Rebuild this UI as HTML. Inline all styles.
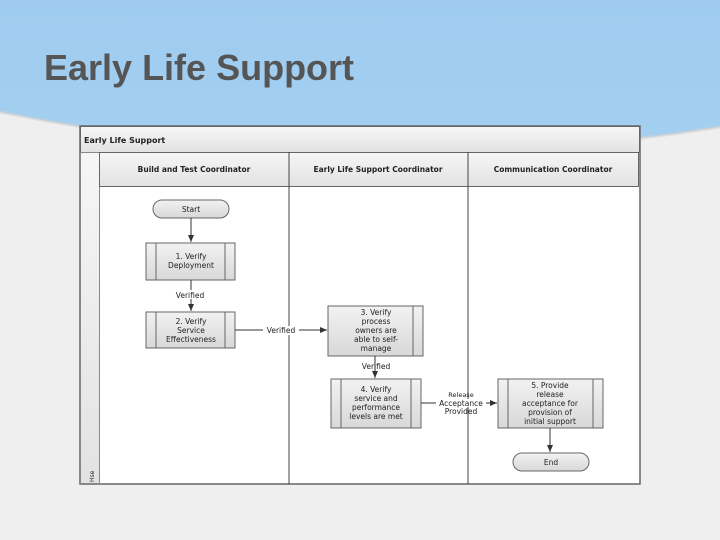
<!DOCTYPE html>
<html><head><meta charset="utf-8"><style>
body{margin:0;width:720px;height:540px;overflow:hidden;font-family:"Liberation Sans",sans-serif}
</style></head><body>
<svg width="720" height="540" xmlns="http://www.w3.org/2000/svg" style="display:block">
<defs>
<linearGradient id="bg" x1="0" y1="0" x2="0" y2="1"><stop offset="0" stop-color="#9ecbef"/><stop offset="1" stop-color="#b3dbf6"/></linearGradient>
<linearGradient id="hd" x1="0" y1="0" x2="0" y2="1"><stop offset="0" stop-color="#f6f6f6"/><stop offset="1" stop-color="#e2e2e2"/></linearGradient>
<linearGradient id="bx" x1="0" y1="0" x2="0" y2="1"><stop offset="0" stop-color="#f2f2f2"/><stop offset="1" stop-color="#d8d8d8"/></linearGradient>
<marker id="ar" markerWidth="8" markerHeight="8" refX="7" refY="4" orient="auto" markerUnits="userSpaceOnUse"><path d="M0,1 L7,4 L0,7 Z" fill="#333"/></marker>
</defs>
<rect width="720" height="540" fill="url(#bg)"/>
<path d="M0,112 Q360,185 720,127 L720,540 L0,540 Z" fill="#efefef"/>
<path d="M0,112 Q360,185 720,127" fill="none" stroke="#d0d0d0" stroke-width="3" opacity="0.6"/>
<text x="44" y="80" font-size="36" font-weight="bold" fill="#555">Early Life Support</text>
<g font-family="'DejaVu Sans',sans-serif" fill="#222">
<rect x="80" y="126" width="560" height="358" fill="#fff" stroke="#666" stroke-width="1.5"/>
<rect x="80.5" y="126.5" width="559" height="26" fill="url(#hd)" stroke="#666"/>
<text x="84" y="143" font-size="8" font-weight="bold">Early Life Support</text>
<rect x="80.5" y="152.5" width="19" height="331" fill="url(#hd)" stroke="#888"/>
<text transform="translate(94,482) rotate(-90)" font-size="6">Hse</text>
<rect x="99.5" y="152.5" width="539" height="34" fill="url(#hd)" stroke="#666"/>
<line x1="289" y1="152" x2="289" y2="484" stroke="#444"/>
<line x1="468" y1="152" x2="468" y2="484" stroke="#444"/>
<text x="194" y="172" font-size="7.5" font-weight="bold" text-anchor="middle">Build and Test Coordinator</text>
<text x="378" y="172" font-size="7.5" font-weight="bold" text-anchor="middle">Early Life Support Coordinator</text>
<text x="553" y="172" font-size="7.5" font-weight="bold" text-anchor="middle">Communication Coordinator</text>
<g stroke="#666" stroke-width="1">
<rect x="153" y="200" width="76" height="18" rx="9" fill="url(#bx)"/>
<rect x="513" y="453" width="76" height="18" rx="9" fill="url(#bx)"/>
<rect x="146" y="243" width="89" height="37" fill="url(#bx)"/>
<line x1="156" y1="243" x2="156" y2="280"/><line x1="225" y1="243" x2="225" y2="280"/>
<rect x="146" y="312" width="89" height="36" fill="url(#bx)"/>
<line x1="156" y1="312" x2="156" y2="348"/><line x1="225" y1="312" x2="225" y2="348"/>
<rect x="328" y="306" width="95" height="50" fill="url(#bx)"/>
<line x1="413" y1="306" x2="413" y2="356"/>
<rect x="331" y="379" width="90" height="49" fill="url(#bx)"/>
<line x1="341" y1="379" x2="341" y2="428"/><line x1="411" y1="379" x2="411" y2="428"/>
<rect x="498" y="379" width="105" height="49" fill="url(#bx)"/>
<line x1="508" y1="379" x2="508" y2="428"/><line x1="593" y1="379" x2="593" y2="428"/>
</g>
<g stroke="#333" stroke-width="1" marker-end="url(#ar)">
<line x1="191" y1="218" x2="191" y2="242"/>
<line x1="191" y1="280" x2="191" y2="311"/>
<line x1="235" y1="330" x2="327" y2="330"/>
<line x1="375" y1="356" x2="375" y2="378"/>
<line x1="421" y1="403" x2="497" y2="403"/>
<line x1="550" y1="428" x2="550" y2="452"/>
</g>
<g font-size="7.5" text-anchor="middle">
<text x="191" y="212">Start</text>
<text x="551" y="465">End</text>
<text x="191" y="259">1. Verify</text><text x="191" y="268">Deployment</text>
<rect x="170" y="290" width="42" height="9" fill="#fff"/><text x="190" y="298">Verified</text>
<text x="191" y="324">2. Verify</text><text x="191" y="333">Service</text><text x="191" y="342">Effectiveness</text>
<rect x="263" y="326" width="36" height="9" fill="#fff"/><text x="281" y="333">Verified</text>
<text x="376" y="315">3. Verify</text><text x="376" y="324">process</text><text x="376" y="333">owners are</text><text x="376" y="342">able to self-</text><text x="376" y="351">manage</text>
<text x="376" y="369">Verified</text>
<text x="376" y="392">4. Verify</text><text x="376" y="401">service and</text><text x="376" y="410">performance</text><text x="376" y="419">levels are met</text>
<text x="461" y="397" font-size="6.5">Release</text>
<rect x="436" y="399" width="50" height="8" fill="#fff"/><text x="461" y="406">Acceptance</text>
<text x="461" y="414">Provided</text>
<text x="550" y="388">5. Provide</text><text x="550" y="397">release</text><text x="550" y="406">acceptance for</text><text x="550" y="415">provision of</text><text x="550" y="424">initial support</text>
</g>
</g>
</svg>
</body></html>
